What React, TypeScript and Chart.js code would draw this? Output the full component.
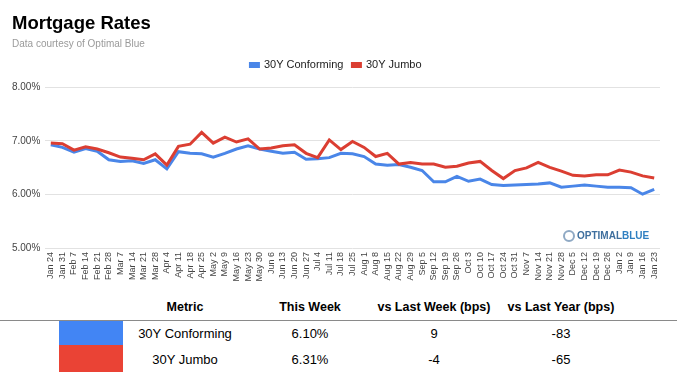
import React, { useEffect, useRef } from "react";
import { Chart, registerables } from "chart.js";

Chart.register(...registerables);

const FONT = "'Liberation Sans', Arial, Helvetica, sans-serif";

const weekLabels = [
  "Jan 24", "Jan 31", "Feb 7", "Feb 14", "Feb 21", "Feb 28", "Mar 7", "Mar 14", "Mar 21", "Mar 28",
  "Apr 4", "Apr 11", "Apr 18", "Apr 25", "May 2", "May 9", "May 16", "May 23", "May 30", "Jun 6",
  "Jun 13", "Jun 20", "Jun 27", "Jul 4", "Jul 11", "Jul 18", "Jul 25", "Aug 1", "Aug 8", "Aug 15",
  "Aug 22", "Aug 29", "Sep 5", "Sep 12", "Sep 19", "Sep 26", "Oct 3", "Oct 10", "Oct 17", "Oct 24",
  "Oct 31", "Nov 7", "Nov 14", "Nov 21", "Nov 28", "Dec 5", "Dec 12", "Dec 19", "Dec 26", "Jan 2",
  "Jan 9", "Jan 16", "Jan 23",
];

const conforming = [
  6.93, 6.88, 6.79, 6.86, 6.81, 6.65, 6.62, 6.63, 6.58, 6.65,
  6.48, 6.80, 6.77, 6.76, 6.70, 6.77, 6.85, 6.91, 6.85, 6.81,
  6.77, 6.79, 6.66, 6.67, 6.69, 6.77, 6.76, 6.71, 6.57, 6.55,
  6.56, 6.51, 6.45, 6.24, 6.24, 6.34, 6.25, 6.29, 6.19, 6.17,
  6.18, 6.19, 6.20, 6.22, 6.14, 6.16, 6.18, 6.16, 6.14, 6.14,
  6.13, 6.01, 6.10,
];

const jumbo = [
  6.96, 6.95, 6.83, 6.89, 6.85, 6.78, 6.70, 6.68, 6.65, 6.76,
  6.55, 6.90, 6.94, 7.16, 6.96, 7.07, 6.98, 7.04, 6.85, 6.87,
  6.91, 6.93, 6.77, 6.69, 7.02, 6.84, 6.99, 6.88, 6.71, 6.77,
  6.57, 6.60, 6.57, 6.57, 6.51, 6.53, 6.59, 6.62, 6.45, 6.30,
  6.45, 6.50, 6.60, 6.51, 6.44, 6.36, 6.35, 6.37, 6.37, 6.46,
  6.42, 6.35, 6.31,
];

const seriesNames = ["30Y Conforming", "30Y Jumbo"];
const lineColors = ["#4a86e8", "#db3e32"];
const boxColors = ["#4285f4", "#ea4335"];

const tableHeaders = ["Metric", "This Week", "vs Last Week (bps)", "vs Last Year (bps)"];
const thisWeek = ["6.10%", "6.31%"];
const vsLastWeek = ["9", "-4"];
const vsLastYear = ["-83", "-65"];

const colCenters = [185, 310, 434, 561];

function Cell({ x, y, text, bold, size, w = 150 }: { x: number; y: number; text: string; bold?: boolean; size: number; w?: number }) {
  return (
    <div
      style={{
        position: "absolute",
        left: x - w / 2,
        top: y - 10,
        width: w,
        height: 20,
        lineHeight: "20px",
        textAlign: "center",
        fontFamily: FONT,
        fontSize: size,
        fontWeight: bold ? 700 : 400,
        color: "#000",
        whiteSpace: "nowrap",
      }}
    >
      {text}
    </div>
  );
}

export default function App() {
  const canvasRef = useRef<HTMLCanvasElement | null>(null);

  useEffect(() => {
    if (!canvasRef.current) return;
    const chart = new Chart(canvasRef.current, {
      type: "line",
      data: {
        labels: weekLabels,
        datasets: [
          {
            label: seriesNames[0],
            data: conforming,
            borderColor: lineColors[0],
            backgroundColor: lineColors[0],
            borderWidth: 3,
            pointRadius: 0,
            tension: 0,
            xAxisID: "x",
            order: 1,
          },
          {
            label: seriesNames[1],
            data: jumbo,
            borderColor: lineColors[1],
            backgroundColor: lineColors[1],
            borderWidth: 3,
            pointRadius: 0,
            tension: 0,
            xAxisID: "x",
            order: 0,
          },
        ],
      },
      options: {
        responsive: false,
        animation: false,
        devicePixelRatio: 1,
        layout: { padding: { left: 12, right: 21, top: 0, bottom: 7 } },
        plugins: {
          title: {
            display: true,
            text: "Mortgage Rates",
            align: "start",
            color: "#000",
            font: { family: FONT, size: 18.5, weight: "bold" },
            padding: { top: 12.5, bottom: 0 },
          },
          subtitle: {
            display: true,
            text: "Data courtesy of Optimal Blue",
            align: "start",
            color: "#9a9a9a",
            font: { family: FONT, size: 10 },
            padding: { top: 3.9, bottom: 0 },
          },
          legend: {
            display: true,
            position: "top",
            align: "center",
            labels: {
              boxWidth: 8,
              boxHeight: 3,
              padding: 9,
              color: "#222",
              font: { family: FONT, size: 11 },
              sort: (a: any, b: any) => a.datasetIndex - b.datasetIndex,
            },
          },
          tooltip: { enabled: false },
        },
        scales: {
          x: {
            type: "category",
            position: "bottom",
            offset: true,
            grid: { display: false, drawTicks: false },
            border: { display: false },
            ticks: {
              autoSkip: false,
              maxRotation: 90,
              minRotation: 90,
              padding: 3.5,
              color: "#444",
              font: { family: FONT, size: 9 },
            },
          },
          xTop: {
            type: "category",
            position: "top",
            labels: [""],
            grid: { display: false, drawTicks: false },
            border: { display: false },
            ticks: { display: false },
            afterFit: (s: any) => {
              s.height = 6.6;
            },
          },
          y: {
            min: 5,
            max: 8,
            grid: { color: "#e2e2e2", lineWidth: 1, drawTicks: false },
            border: { display: false },
            afterFit: (s: any) => {
              s.width = 33;
            },
            ticks: {
              stepSize: 1,
              padding: 4.7,
              color: "#444",
              font: { family: FONT, size: 10 },
              callback: (v: any) => Number(v).toFixed(2) + "%",
            },
          },
        },
      },
    });
    return () => chart.destroy();
  }, []);

  const rowY = [333.7, 360];

  return (
    <div style={{ position: "absolute", left: 0, top: 0, width: 681, height: 378, background: "#fff", overflow: "hidden" }}>
      <canvas ref={canvasRef} width={681} height={292} style={{ position: "absolute", left: 0, top: 0, width: 681, height: 292 }} />
      {/* logo */}
      <div style={{ position: "absolute", left: 563, top: 230, width: 12, height: 12, borderRadius: 6, border: "2px solid #8fa9c4", boxSizing: "border-box" }} />
      <div
        style={{
          position: "absolute",
          left: 577,
          top: 229,
          height: 14,
          lineHeight: "14px",
          fontFamily: FONT,
          fontSize: 10,
          fontWeight: 700,
          whiteSpace: "nowrap",
        }}
      >
        <span style={{ color: "#3f6f9e" }}>OPTIMAL</span>
        <span style={{ color: "#2f7fc1" }}>BLUE</span>
      </div>
      {/* table */}
      {tableHeaders.map((h, i) => (
        <Cell key={h} x={colCenters[i]} y={306.7} text={h} bold size={12.5} />
      ))}
      <div style={{ position: "absolute", left: 0, top: 319.5, width: 677, height: 1.5, background: "#8a8a8a" }} />
      <div style={{ position: "absolute", left: 59, top: 321, width: 64, height: 23.5, background: boxColors[0] }} />
      <div style={{ position: "absolute", left: 59, top: 344.5, width: 64, height: 27, background: boxColors[1] }} />
      {seriesNames.map((name, r) => (
        <React.Fragment key={name}>
          <Cell x={colCenters[0]} y={rowY[r]} text={name} size={13} />
          <Cell x={colCenters[1]} y={rowY[r]} text={thisWeek[r]} size={13} />
          <Cell x={colCenters[2]} y={rowY[r]} text={vsLastWeek[r]} size={13} />
          <Cell x={colCenters[3]} y={rowY[r]} text={vsLastYear[r]} size={13} />
        </React.Fragment>
      ))}
    </div>
  );
}
